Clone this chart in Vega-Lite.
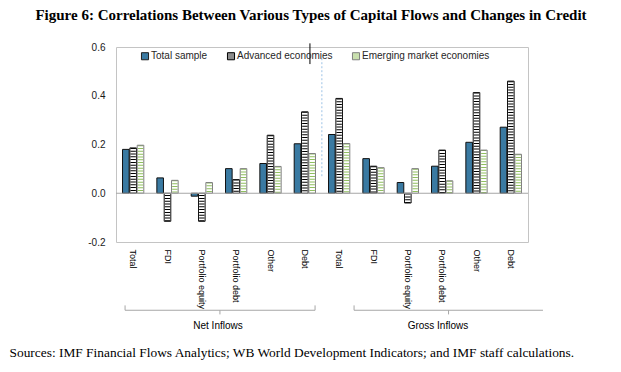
{
  "$schema": "https://vega.github.io/schema/vega-lite/v6.json",
  "width": 412,
  "height": 195,
  "autosize": {"type": "none"},
  "padding": {"left": 116, "top": 47, "right": 93, "bottom": 130},
  "background": "white",
  "config": {"view": {"stroke": "#c4c4c4", "strokeWidth": 1}, "font": "Liberation Sans"},
  "title": {"text": "Figure 6: Correlations Between Various Types of Capital Flows and Changes in Credit", "font": "Liberation Serif", "fontSize": 15, "fontWeight": "bold", "color": "black", "anchor": "middle", "frame": "group", "dx": -11, "offset": 19},
  "datasets": {
    "corr": [
      {"cat": "N|Total", "series": "Total sample", "value": 0.18},
      {"cat": "N|Total", "series": "Advanced economies", "value": 0.186},
      {"cat": "N|Total", "series": "Emerging market economies", "value": 0.197},
      {"cat": "N|FDI", "series": "Total sample", "value": 0.063},
      {"cat": "N|FDI", "series": "Advanced economies", "value": -0.115},
      {"cat": "N|FDI", "series": "Emerging market economies", "value": 0.053},
      {"cat": "N|Portfolio equity", "series": "Total sample", "value": -0.012},
      {"cat": "N|Portfolio equity", "series": "Advanced economies", "value": -0.115},
      {"cat": "N|Portfolio equity", "series": "Emerging market economies", "value": 0.044},
      {"cat": "N|Portfolio debt", "series": "Total sample", "value": 0.101},
      {"cat": "N|Portfolio debt", "series": "Advanced economies", "value": 0.056},
      {"cat": "N|Portfolio debt", "series": "Emerging market economies", "value": 0.101},
      {"cat": "N|Other", "series": "Total sample", "value": 0.122},
      {"cat": "N|Other", "series": "Advanced economies", "value": 0.238},
      {"cat": "N|Other", "series": "Emerging market economies", "value": 0.11},
      {"cat": "N|Debt", "series": "Total sample", "value": 0.203},
      {"cat": "N|Debt", "series": "Advanced economies", "value": 0.334},
      {"cat": "N|Debt", "series": "Emerging market economies", "value": 0.163},
      {"cat": "G|Total", "series": "Total sample", "value": 0.241},
      {"cat": "G|Total", "series": "Advanced economies", "value": 0.389},
      {"cat": "G|Total", "series": "Emerging market economies", "value": 0.204},
      {"cat": "G|FDI", "series": "Total sample", "value": 0.142},
      {"cat": "G|FDI", "series": "Advanced economies", "value": 0.111},
      {"cat": "G|FDI", "series": "Emerging market economies", "value": 0.105},
      {"cat": "G|Portfolio equity", "series": "Total sample", "value": 0.044},
      {"cat": "G|Portfolio equity", "series": "Advanced economies", "value": -0.04},
      {"cat": "G|Portfolio equity", "series": "Emerging market economies", "value": 0.101},
      {"cat": "G|Portfolio debt", "series": "Total sample", "value": 0.111},
      {"cat": "G|Portfolio debt", "series": "Advanced economies", "value": 0.177},
      {"cat": "G|Portfolio debt", "series": "Emerging market economies", "value": 0.051},
      {"cat": "G|Other", "series": "Total sample", "value": 0.209},
      {"cat": "G|Other", "series": "Advanced economies", "value": 0.413},
      {"cat": "G|Other", "series": "Emerging market economies", "value": 0.177},
      {"cat": "G|Debt", "series": "Total sample", "value": 0.271},
      {"cat": "G|Debt", "series": "Advanced economies", "value": 0.46},
      {"cat": "G|Debt", "series": "Emerging market economies", "value": 0.16}
    ]
  },
  "layer": [
    {
      "data": {"name": "corr"},
      "mark": {"type": "bar", "strokeWidth": 1},
      "encoding": {
        "x": {
          "field": "cat", "type": "nominal", "sort": null,
          "scale": {"domain": ["N|Total", "N|FDI", "N|Portfolio equity", "N|Portfolio debt", "N|Other", "N|Debt", "G|Total", "G|FDI", "G|Portfolio equity", "G|Portfolio debt", "G|Other", "G|Debt"], "paddingInner": 0.38, "paddingOuter": 0.19},
          "axis": {
            "labelExpr": "split(datum.label, '|')[1]", "labelAngle": 90, "labelAlign": "left", "labelBaseline": "middle",
            "labelPadding": 7, "labelFontSize": 9, "labelColor": "black", "labelFont": "Liberation Sans", "labelOverlap": false,
            "ticks": false, "domain": false,
            "title": "Sources: IMF Financial Flows Analytics; WB World Development Indicators; and IMF staff calculations.",
            "titleFont": "Liberation Serif", "titleFontSize": 13.4, "titleFontWeight": "normal", "titleColor": "black",
            "titleX": -107, "titleY": 110, "titleAlign": "left", "titleBaseline": "middle", "titleAngle": 0
          }
        },
        "xOffset": {"field": "series", "type": "nominal", "scale": {"domain": ["Total sample", "Advanced economies", "Emerging market economies"], "paddingInner": 0.1}},
        "y": {
          "field": "value", "type": "quantitative",
          "scale": {"domain": [-0.2, 0.6], "nice": false, "zero": false},
          "axis": {"values": [-0.2, 0, 0.2, 0.4, 0.6], "labelExpr": "datum.value < 0 ? '-' + format(-datum.value, '.1f') : format(datum.value, '.1f')", "ticks": false, "domain": false, "grid": false, "title": null, "labelFontSize": 10, "labelColor": "#1a1a1a", "labelPadding": 11, "labelFont": "Liberation Sans"}
        },
        "fill": {"condition": {"test": "datum.series === 'Total sample'", "value": "#3a7aa2"}, "value": "#ffffff"},
        "stroke": {"value": null}
      }
    },
    {
      "data": {"name": "corr"},
      "transform": [{"filter": "datum.series !== 'Total sample'"}],
      "mark": {"type": "rule", "strokeWidth": 5.4, "strokeDash": [1, 1.8]},
      "encoding": {
        "x": {"field": "cat", "type": "nominal", "sort": null},
        "xOffset": {"field": "series", "type": "nominal"},
        "y": {"field": "value", "type": "quantitative"},
        "y2": {"datum": 0},
        "stroke": {"condition": {"test": "datum.series === 'Advanced economies'", "value": "#000000"}, "value": "#8fbf5e"}
      }
    },
    {
      "data": {"name": "corr"},
      "mark": {"type": "bar", "strokeWidth": 1, "fill": null, "fillOpacity": 0},
      "encoding": {
        "x": {"field": "cat", "type": "nominal", "sort": null},
        "xOffset": {"field": "series", "type": "nominal"},
        "y": {"field": "value", "type": "quantitative"},
        "stroke": {"condition": {"test": "datum.series === 'Emerging market economies'", "value": "#7f7f7f"}, "value": "#111111"}
      }
    },
    {
      "data": {"values": [{"series": "Total sample"}, {"series": "Advanced economies"}, {"series": "Emerging market economies"}]},
      "mark": {"type": "square", "opacity": 0, "filled": true},
      "encoding": {
        "x": {"datum": "N|Total"},
        "y": {"datum": 0},
        "fill": {
          "field": "series", "type": "nominal",
          "scale": {"domain": ["Total sample", "Advanced economies", "Emerging market economies"], "range": ["#3a7aa2", "#8c8c8c", "#c9e0ae"]},
          "legend": {"title": null, "orient": "none", "legendX": 24, "legendY": 4, "direction": "horizontal", "symbolType": "square", "symbolSize": 50, "symbolStrokeWidth": 1, "symbolOpacity": 1, "labelFontSize": 10, "labelColor": "#262626", "labelFont": "Liberation Sans", "columnPadding": 17, "labelOffset": 1, "padding": 0}
        },
        "stroke": {
          "field": "series", "type": "nominal",
          "scale": {"domain": ["Total sample", "Advanced economies", "Emerging market economies"], "range": ["#1f1f1f", "#000000", "#7f7f7f"]},
          "legend": {"title": null, "orient": "none", "legendX": 24, "legendY": 4, "direction": "horizontal", "symbolType": "square", "symbolSize": 50, "symbolStrokeWidth": 1, "symbolOpacity": 1, "labelFontSize": 10, "labelColor": "#262626", "labelFont": "Liberation Sans", "columnPadding": 17, "labelOffset": 1, "padding": 0}
        }
      }
    },
    {
      "data": {"values": [{}]},
      "mark": {"type": "rule", "color": "#a6a6a6", "strokeWidth": 1},
      "encoding": {"y": {"datum": 0}}
    },
    {
      "data": {"values": [{}]},
      "mark": {"type": "rule", "color": "#9dc3e6", "strokeWidth": 1, "strokeDash": [2, 2]},
      "encoding": {"x": {"datum": "N|Debt", "bandPosition": 1.3}, "y": {"datum": 0.554}, "y2": {"datum": 0.062}}
    },
    {
      "data": {"values": [{}]},
      "mark": {"type": "rule", "color": "black", "strokeWidth": 1},
      "encoding": {"x": {"datum": "N|Debt", "bandPosition": 0.74}, "y": {"datum": 0.615}, "y2": {"datum": 0.53}}
    },
    {
      "data": {"values": [{}]},
      "mark": {"type": "rule", "color": "#a6a6a6", "strokeWidth": 1},
      "encoding": {"x": {"datum": "N|Total", "bandPosition": 0.12}, "x2": {"datum": "N|Debt", "bandPosition": 0.98}, "y": {"datum": -0.48}}
    },
    {
      "data": {"values": [{}]},
      "mark": {"type": "rule", "color": "#a6a6a6", "strokeWidth": 1},
      "encoding": {"x": {"datum": "N|Total", "bandPosition": 0.12}, "y": {"datum": -0.48}, "y2": {"datum": -0.46}}
    },
    {
      "data": {"values": [{}]},
      "mark": {"type": "rule", "color": "#a6a6a6", "strokeWidth": 1},
      "encoding": {"x": {"datum": "N|Debt", "bandPosition": 0.98}, "y": {"datum": -0.48}, "y2": {"datum": -0.46}}
    },
    {
      "data": {"values": [{}]},
      "mark": {"type": "rule", "color": "#a6a6a6", "strokeWidth": 1},
      "encoding": {"x": {"datum": "N|Portfolio equity", "bandPosition": 1.35}, "y": {"datum": -0.48}, "y2": {"datum": -0.497}}
    },
    {
      "data": {"values": [{}]},
      "mark": {"type": "rule", "color": "#a6a6a6", "strokeWidth": 1},
      "encoding": {"x": {"datum": "G|Total", "bandPosition": 1.2}, "x2": {"datum": "G|Debt", "bandPosition": 2.01}, "y": {"datum": -0.48}}
    },
    {
      "data": {"values": [{}]},
      "mark": {"type": "rule", "color": "#a6a6a6", "strokeWidth": 1},
      "encoding": {"x": {"datum": "G|Total", "bandPosition": 1.2}, "y": {"datum": -0.48}, "y2": {"datum": -0.46}}
    },
    {
      "data": {"values": [{}]},
      "mark": {"type": "rule", "color": "#a6a6a6", "strokeWidth": 1},
      "encoding": {"x": {"datum": "G|Portfolio debt", "bandPosition": 0.8}, "y": {"datum": -0.48}, "y2": {"datum": -0.497}}
    },
    {
      "data": {"values": [{"group": "Net Inflows"}]},
      "mark": {"type": "text", "fontSize": 10, "color": "black", "font": "Liberation Sans"},
      "encoding": {"x": {"datum": "N|Portfolio equity", "bandPosition": 1.26}, "y": {"datum": -0.546}, "text": {"field": "group"}}
    },
    {
      "data": {"values": [{"group": "Gross Inflows"}]},
      "mark": {"type": "text", "fontSize": 10, "color": "black", "font": "Liberation Sans"},
      "encoding": {"x": {"datum": "G|Portfolio debt", "bandPosition": 0.3}, "y": {"datum": -0.546}, "text": {"field": "group"}}
    }
  ]
}
